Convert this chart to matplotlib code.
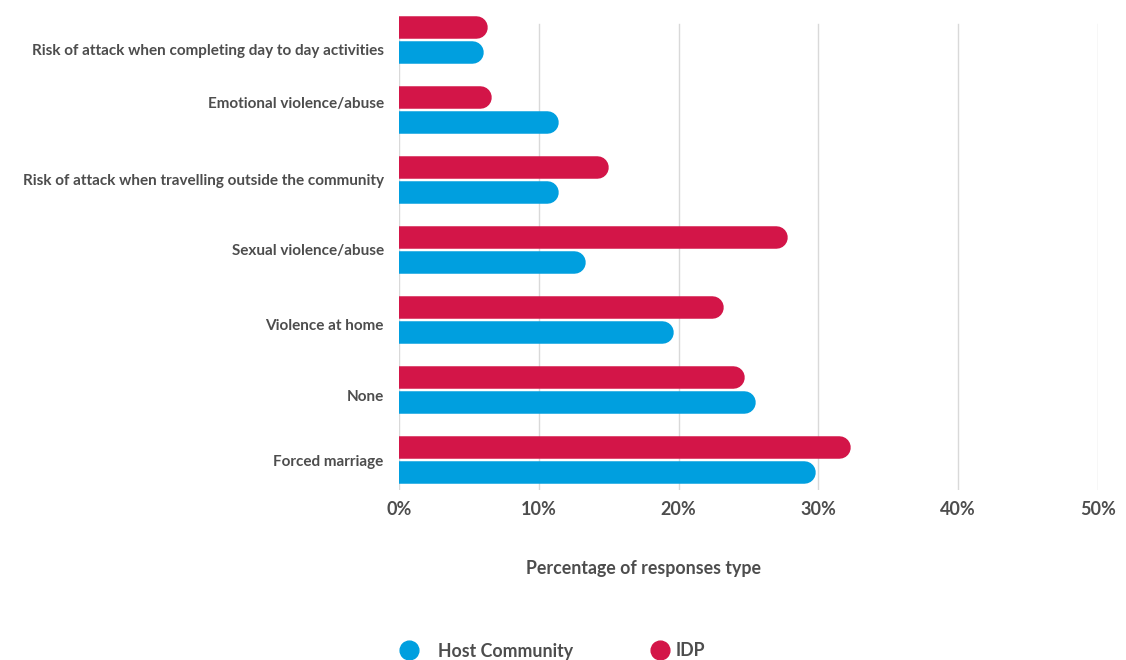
import matplotlib
matplotlib.use("Agg")
import matplotlib.pyplot as plt
from matplotlib.lines import Line2D
import matplotlib.transforms as mtransforms

categories = [
    "Risk of attack when completing day to day activities",
    "Emotional violence/abuse",
    "Risk of attack when travelling outside the community",
    "Sexual violence/abuse",
    "Violence at home",
    "None",
    "Forced marriage",
]
host_values = [6.0, 11.4, 11.4, 13.3, 19.6, 25.5, 29.8]
idp_values = [6.3, 6.6, 15.0, 27.8, 23.2, 24.7, 32.3]
xticks = [0, 10, 20, 30, 40, 50]
xtick_labels = ["0%", "10%", "20%", "30%", "40%", "50%"]
series_names = ["Host Community", "IDP"]

BLUE = "#009fdf"
RED = "#d31548"
TEXT = "#4d4d4d"
GRID = "#d9d9d9"
FONT = ["Lato", "DejaVu Sans"]

W, H = 1126, 660
fig = plt.figure(figsize=(W / 100, H / 100), dpi=100)
left, right, top, bottom = 399, 1098, 12, 490
ax = fig.add_axes([left / W, 1 - bottom / H, (right - left) / W, (bottom - top) / H])

ax.set_xlim(0, 50)
ax.set_ylim(6.44, -0.386)
for s in ax.spines.values():
    s.set_visible(False)

grid_top = (bottom - 24) / (bottom - top)
for xv in xticks:
    ax.axvline(xv, ymin=0, ymax=grid_top, color=GRID, lw=1, zorder=0)

bar_px = 22.5
lw_pt = bar_px * 72 / 100
r_pt = lw_pt / 2
shift = mtransforms.offset_copy(ax.transData, fig=fig, x=-r_pt, y=0, units="points")
off = 12.5 / 70.0

for i, (h, d) in enumerate(zip(host_values, idp_values)):
    ax.plot([0, d], [i - off, i - off], color=RED, lw=lw_pt,
            solid_capstyle="round", transform=shift, zorder=2)
    ax.plot([0, h], [i + off, i + off], color=BLUE, lw=lw_pt,
            solid_capstyle="round", transform=shift, zorder=2)

ax.set_yticks(range(len(categories)))
ax.set_yticklabels(categories, fontfamily=FONT, fontweight="bold",
                   fontsize=11, color=TEXT)
ax.tick_params(axis="y", length=0, pad=11)
# small vertical nudges of the category labels as placed in the reference (pixels)
label_nudge_px = [-10, 7, 0, 0, -5, -6, -1]
for lbl, dy in zip(ax.get_yticklabels(), label_nudge_px):
    lbl.set_transform(lbl.get_transform() +
                      mtransforms.ScaledTranslation(0, dy / 100, fig.dpi_scale_trans))

ax.set_xticks(xticks)
ax.set_xticklabels(xtick_labels, fontfamily=FONT, fontweight="bold",
                   fontsize=13, color=TEXT)
ax.tick_params(axis="x", length=0, pad=8)

ax.set_xlabel("Percentage of responses type", fontfamily=FONT,
              fontweight="bold", fontsize=12.8, color=TEXT)
ax.xaxis.set_label_coords((643 - left) / (right - left), -(560 - bottom) / (bottom - top))

legend_pos = [(409, 438), (660, 676)]
for (mx, tx), name, col in zip(legend_pos, series_names, [BLUE, RED]):
    fig.add_artist(Line2D([mx / W], [1 - 650 / H], transform=fig.transFigure,
                          marker="o", markersize=13.5, linestyle="none",
                          markerfacecolor=col, markeredgecolor=col))
    fig.text(tx / W, 1 - 651 / H, name, ha="left", va="center",
             fontfamily=FONT, fontweight="bold", fontsize=12.8, color=TEXT)

fig.savefig("out.png", dpi=100)
